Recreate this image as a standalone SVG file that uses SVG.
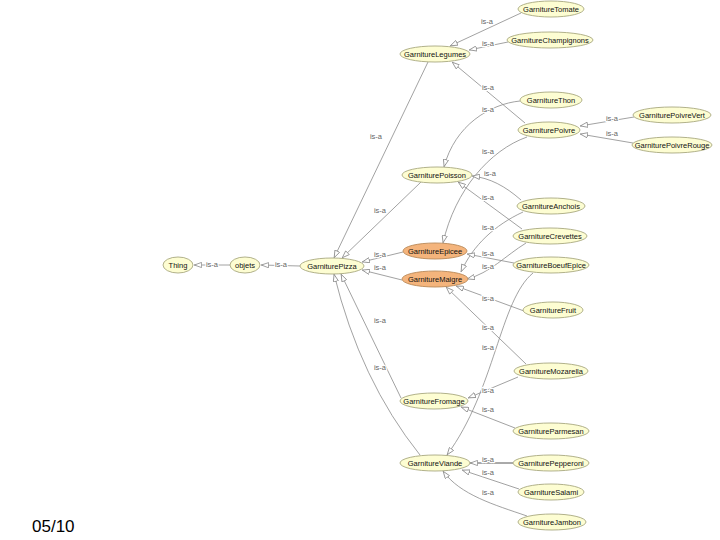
<svg xmlns="http://www.w3.org/2000/svg" width="720" height="540" viewBox="0 0 720 540">
<defs>
<style>
.n ellipse{fill:#fdfdd2;stroke:#a8a880;stroke-width:0.9}
.o ellipse{fill:#f4b47c;stroke:#b98a5a;stroke-width:0.9}
.n text,.o text{font-family:"Liberation Sans",Arial,sans-serif;font-size:7.5px;fill:#111;text-anchor:middle}
.e path{fill:none;stroke:#8a8a8a;stroke-width:0.8;marker-end:url(#tri)}
.l text{font-family:"Liberation Sans",Arial,sans-serif;font-size:7.5px;fill:#666;text-anchor:middle;stroke:#fff;stroke-width:2.4;paint-order:stroke;stroke-linejoin:round}
</style>
<marker id="tri" viewBox="0 0 8 6" refX="8" refY="3" markerWidth="8" markerHeight="6" markerUnits="userSpaceOnUse" orient="auto">
<path d="M0.4,0.4 L7.6,3 L0.4,5.6 z" fill="#fff" stroke="#8a8a8a" stroke-width="0.8"/>
</marker>
</defs>
<rect width="720" height="540" fill="#fff"/>
<g id="connectors" class="e">
<path d="M 230 265 L 194 265"/>
<path d="M 300 266 L 261 265"/>
<path d="M 428 62 L 334 258"/>
<path d="M 421 182 L 342 258"/>
<path d="M 403 252 L 362 262"/>
<path d="M 402 280 L 362 270"/>
<path d="M 401 398 L 341 274"/>
<path d="M 420 455 Q 360 380 334 274"/>
<path d="M 521 13 L 450 46"/>
<path d="M 508 42 L 469 50"/>
<path d="M 525 123 L 452 62"/>
<path d="M 520 101 C 490 104, 455 125, 444 167"/>
<path d="M 527 137 C 490 150, 455 190, 443 243"/>
<path d="M 521 200 C 505 186, 490 178, 472 176"/>
<path d="M 522 229 L 458 182"/>
<path d="M 523 212 C 495 225, 473 245, 461 272"/>
<path d="M 514 263 L 467 254"/>
<path d="M 526 243 C 505 256, 490 273, 467 279"/>
<path d="M 524 311 L 456 286"/>
<path d="M 526 364 L 446 287"/>
<path d="M 533 273 C 500 300, 495 390, 447 455"/>
<path d="M 518 377 L 468 398"/>
<path d="M 515 428 L 461 407"/>
<path d="M 513 463 L 470 463" style="stroke:#555;stroke-width:1"/>
<path d="M 519 489 L 462 470"/>
<path d="M 527 516 C 495 505, 460 495, 443 471"/>
<path d="M 634 117 L 580 126"/>
<path d="M 633 143 L 580 134"/>
</g>
<g id="edge-labels" class="l">
<text x="212" y="266.5">is-a</text>
<text x="281" y="266.5">is-a</text>
<text x="376" y="138.5">is-a</text>
<text x="380" y="212.5">is-a</text>
<text x="380" y="256.5">is-a</text>
<text x="380" y="269.5">is-a</text>
<text x="380" y="322.5">is-a</text>
<text x="380" y="369.5">is-a</text>
<text x="487" y="23.5">is-a</text>
<text x="488" y="45.5">is-a</text>
<text x="488" y="89.5">is-a</text>
<text x="488" y="111.5">is-a</text>
<text x="488" y="153.5">is-a</text>
<text x="490" y="175.5">is-a</text>
<text x="488" y="199.5">is-a</text>
<text x="488" y="229.5">is-a</text>
<text x="488" y="255.5">is-a</text>
<text x="488" y="268.5">is-a</text>
<text x="488" y="300.5">is-a</text>
<text x="488" y="329.5">is-a</text>
<text x="488" y="349.5">is-a</text>
<text x="488" y="392.5">is-a</text>
<text x="488" y="411.5">is-a</text>
<text x="488" y="461.5">is-a</text>
<text x="488" y="474.5">is-a</text>
<text x="488" y="494.5">is-a</text>
<text x="612" y="120.5">is-a</text>
<text x="612" y="135.5">is-a</text>
</g>
<g id="Thing" class="n"><ellipse cx="178" cy="265" rx="15" ry="8"/><text x="178" y="267.7">Thing</text></g>
<g id="objets" class="n"><ellipse cx="245" cy="265" rx="15" ry="8"/><text x="245" y="267.7">objets</text></g>
<g id="GarniturePizza" class="n"><ellipse cx="332" cy="266" rx="32" ry="8"/><text x="332" y="268.7">GarniturePizza</text></g>
<g id="GarnitureTomate" class="n"><ellipse cx="551" cy="9" rx="33" ry="8"/><text x="551" y="11.7">GarnitureTomate</text></g>
<g id="GarnitureChampignons" class="n"><ellipse cx="550" cy="40" rx="43" ry="8"/><text x="550" y="42.7">GarnitureChampignons</text></g>
<g id="GarnitureLegumes" class="n"><ellipse cx="435" cy="54" rx="35" ry="8"/><text x="435" y="56.7">GarnitureLegumes</text></g>
<g id="GarnitureThon" class="n"><ellipse cx="551" cy="100" rx="31" ry="8"/><text x="551" y="102.7">GarnitureThon</text></g>
<g id="GarniturePoivre" class="n"><ellipse cx="549" cy="130" rx="31" ry="8"/><text x="549" y="132.7">GarniturePoivre</text></g>
<g id="GarniturePoivreVert" class="n"><ellipse cx="672" cy="115" rx="39" ry="8"/><text x="672" y="117.7">GarniturePoivreVert</text></g>
<g id="GarniturePoivreRouge" class="n"><ellipse cx="672" cy="145" rx="40" ry="8"/><text x="672" y="147.7">GarniturePoivreRouge</text></g>
<g id="GarniturePoisson" class="n"><ellipse cx="437" cy="175" rx="35" ry="8"/><text x="437" y="177.7">GarniturePoisson</text></g>
<g id="GarnitureAnchois" class="n"><ellipse cx="551" cy="206" rx="34" ry="8"/><text x="551" y="208.7">GarnitureAnchois</text></g>
<g id="GarnitureCrevettes" class="n"><ellipse cx="550" cy="236" rx="37" ry="8"/><text x="550" y="238.7">GarnitureCrevettes</text></g>
<g id="GarnitureEpicee" class="o"><ellipse cx="435" cy="251" rx="32" ry="8"/><text x="435" y="253.7">GarnitureEpicee</text></g>
<g id="GarnitureBoeufEpice" class="n"><ellipse cx="551" cy="265" rx="38" ry="8"/><text x="551" y="267.7">GarnitureBoeufEpice</text></g>
<g id="GarnitureMaigre" class="o"><ellipse cx="435" cy="279" rx="33" ry="8"/><text x="435" y="281.7">GarnitureMaigre</text></g>
<g id="GarnitureFruit" class="n"><ellipse cx="553" cy="310" rx="30" ry="8"/><text x="553" y="312.7">GarnitureFruit</text></g>
<g id="GarnitureMozarella" class="n"><ellipse cx="551" cy="371" rx="37" ry="8"/><text x="551" y="373.7">GarnitureMozarella</text></g>
<g id="GarnitureFromage" class="n"><ellipse cx="434" cy="401" rx="34" ry="8"/><text x="434" y="403.7">GarnitureFromage</text></g>
<g id="GarnitureParmesan" class="n"><ellipse cx="551" cy="431" rx="38" ry="8"/><text x="551" y="433.7">GarnitureParmesan</text></g>
<g id="GarnitureViande" class="n"><ellipse cx="435" cy="463" rx="35" ry="8"/><text x="435" y="465.7">GarnitureViande</text></g>
<g id="GarniturePepperoni" class="n"><ellipse cx="551" cy="463" rx="38" ry="8"/><text x="551" y="465.7">GarniturePepperoni</text></g>
<g id="GarnitureSalami" class="n"><ellipse cx="551" cy="492" rx="33" ry="8"/><text x="551" y="494.7">GarnitureSalami</text></g>
<g id="GarnitureJambon" class="n"><ellipse cx="552" cy="522" rx="34" ry="8"/><text x="552" y="524.7">GarnitureJambon</text></g>
<text x="32" y="532" font-family="Liberation Sans, Arial, sans-serif" font-size="17" fill="#000">05/10</text>
</svg>
